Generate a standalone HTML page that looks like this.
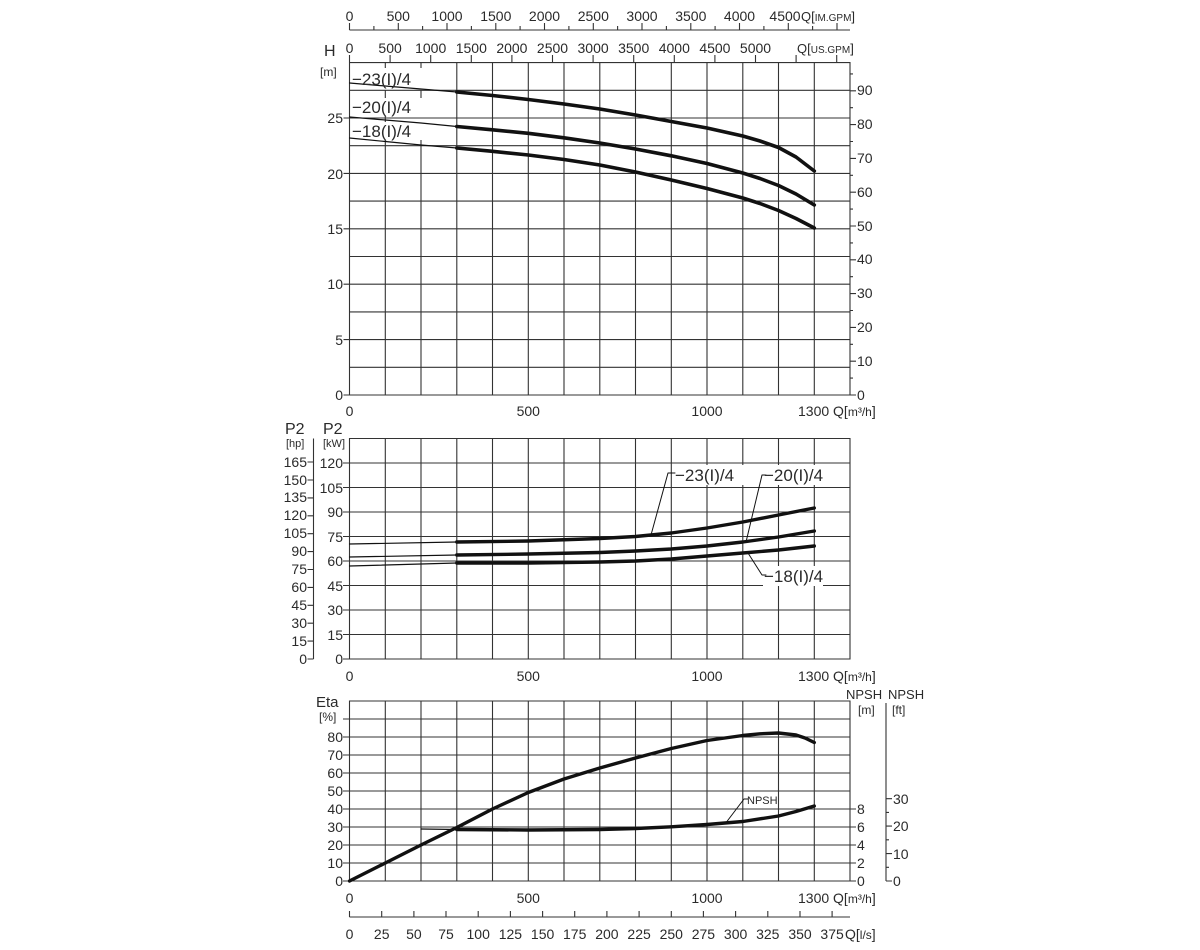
<!DOCTYPE html>
<html><head><meta charset="utf-8"><style>
html,body{margin:0;padding:0;background:#fff;}
svg{display:block;font-family:"Liberation Sans",sans-serif;}
text{fill:#2a2a2a;}
</style></head><body>
<svg width="1200" height="950" viewBox="0 0 1200 950" xmlns="http://www.w3.org/2000/svg">
<g stroke="#333" stroke-width="1.1" fill="none">
<path d="M349.5 30H850 M349.5 30v-7 M398.3 30v-7 M447 30v-7 M495.8 30v-7 M544.5 30v-7 M593.3 30v-7 M642 30v-7 M690.8 30v-7 M739.5 30v-7 M788.3 30v-7 M837 30v-7 M373.9 30v-4 M422.6 30v-4 M471.4 30v-4 M520.1 30v-4 M568.9 30v-4 M617.6 30v-4 M666.4 30v-4 M715.1 30v-4 M763.9 30v-4 M812.6 30v-4"/>
<path d="M349.5 62v-7 M390.1 62v-7 M430.7 62v-7 M471.3 62v-7 M511.9 62v-7 M552.5 62v-7 M593.1 62v-7 M633.7 62v-7 M674.3 62v-7 M714.9 62v-7 M755.5 62v-7 M796.1 62v-7 M836.7 62v-7"/>
<path d="M349.5 62.6H850V395H349.5Z"/>
<path d="M385.3 140V395 M421 140V395 M456.8 62.6V395 M492.5 62.6V395 M528.3 62.6V395 M564 62.6V395 M599.8 62.6V395 M635.5 62.6V395 M671.3 62.6V395 M707 62.6V395 M742.8 62.6V395 M778.5 62.6V395 M814.3 62.6V395"/>
<path d="M385.3 62.6V68 M421 62.6V68 M385.3 90V98 M421 90V98 M385.3 115V122"/>
<path d="M349.5 367.3H850 M349.5 339.6H850 M349.5 311.9H850 M349.5 284.2H850 M349.5 256.5H850 M349.5 228.8H850 M349.5 201.1H850 M349.5 173.4H850 M349.5 145.7H850 M349.5 118H850 M349.5 90.3H850"/>
<path d="M349.5 395h-6 M349.5 339.6h-6 M349.5 284.2h-6 M349.5 228.8h-6 M349.5 173.4h-6 M349.5 118h-6"/>
<path d="M850 395h6 M850 361.2h6 M850 327.4h6 M850 293.6h6 M850 259.8h6 M850 226h6 M850 192.2h6 M850 158.4h6 M850 124.6h6 M850 90.8h6 M850 378.1h3 M850 344.3h3 M850 310.5h3 M850 276.7h3 M850 242.9h3 M850 209.1h3 M850 175.3h3 M850 141.5h3 M850 107.7h3 M850 73.9h3"/>
<path d="M349.5 438.5H850V659H349.5Z"/>
<path d="M385.3 438.5V659 M421 438.5V659 M456.8 438.5V659 M492.5 438.5V659 M528.3 438.5V659 M564 438.5V659 M599.8 438.5V659 M635.5 438.5V659 M671.3 438.5V659 M707 438.5V659 M742.8 438.5V659 M778.5 438.5V659 M814.3 438.5V659"/>
<path d="M343 634.5H850 M343 610H850 M343 585.5H850 M343 561H850 M343 536.5H850 M343 512H850 M343 487.5H850 M343 463H850 M343 659h6.5"/>
<path d="M313.5 438.5V659 M313.5 659h-6 M313.5 641.1h-6 M313.5 623.2h-6 M313.5 605.3h-6 M313.5 587.4h-6 M313.5 569.5h-6 M313.5 551.6h-6 M313.5 533.7h-6 M313.5 515.8h-6 M313.5 497.9h-6 M313.5 480h-6 M313.5 462h-6"/>
<path d="M349.5 701H850V881H349.5Z"/>
<path d="M385.3 701V881 M421 701V881 M456.8 701V881 M492.5 701V881 M528.3 701V881 M564 701V881 M599.8 701V881 M635.5 701V881 M671.3 701V881 M707 701V881 M742.8 701V881 M778.5 701V881 M814.3 701V881"/>
<path d="M343 863H850 M343 845H850 M343 827H850 M343 809H850 M343 791H850 M343 773H850 M343 755H850 M343 737H850 M343 719H850 M343 881h6.5"/>
<path d="M850 881h6 M850 863h6 M850 845h6 M850 827h6 M850 809h6"/>
<path d="M886 703V881 M886 881h6 M886 853.6h6 M886 826.1h6 M886 798.7h6 M886 867.3h3 M886 839.8h3 M886 812.4h3"/>
<path d="M349.5 917H850 M349.5 917v-6 M381.7 917v-6 M413.9 917v-6 M446 917v-6 M478.2 917v-6 M510.4 917v-6 M542.6 917v-6 M574.7 917v-6 M606.9 917v-6 M639.1 917v-6 M671.3 917v-6 M703.4 917v-6 M735.6 917v-6 M767.8 917v-6 M800 917v-6 M832.1 917v-6"/>
</g>
<g fill="#fff">
<rect x="351" y="69" width="78" height="20"/>
<rect x="351" y="98" width="78" height="18"/>
<rect x="351" y="122" width="78" height="18"/>
<rect x="674" y="465" width="70" height="20"/>
<rect x="763" y="465" width="72" height="20"/>
<rect x="763" y="566" width="60" height="20"/>
</g>
<g stroke="#111" fill="none" stroke-linejoin="round" stroke-linecap="round">
<polyline stroke-width="1.2" points="349.5,83 385.3,86 421,89 456.8,92"/>
<polyline stroke-width="3.6" points="456.8,92 492.5,95.5 528.3,99.5 564,104 599.8,109 635.5,115 671.3,121.5 707,128 742.8,136 760,141 778.5,147.5 796,157 814.3,171"/>
<polyline stroke-width="1.2" points="349.5,117 385.3,120 421,123 456.8,126.5"/>
<polyline stroke-width="3.6" points="456.8,126.5 492.5,129.8 528.3,133.3 564,137.8 599.8,143 635.5,149 671.3,155.8 707,163.5 742.8,173 760,178.5 778.5,185.5 796,194 814.3,205"/>
<polyline stroke-width="1.2" points="349.5,138 385.3,141.5 421,145 456.8,148"/>
<polyline stroke-width="3.6" points="456.8,148 492.5,151.3 528.3,155 564,159.5 599.8,165 635.5,172 671.3,180 707,188.5 742.8,198 760,203.5 778.5,210.5 796,218.5 814.3,228"/>
<polyline stroke-width="1.2" points="349.5,544 456.8,542"/>
<polyline stroke-width="3.4" points="456.8,542 528.3,541 599.8,538.5 635.5,536.5 671.3,533 707,528 742.8,522 778.5,515 814.3,508"/>
<polyline stroke-width="1.2" points="349.5,557 456.8,555"/>
<polyline stroke-width="3.4" points="456.8,555 528.3,554 599.8,552.5 635.5,551 671.3,549 707,546 742.8,542 778.5,537 814.3,531"/>
<polyline stroke-width="1.2" points="349.5,566 456.8,563"/>
<polyline stroke-width="3.4" points="456.8,563 528.3,563 599.8,562 635.5,561 671.3,559 707,556 742.8,553 778.5,550 814.3,546"/>
<path stroke-width="1" d="M651 535L668 473H675 M746 542L762 475H766 M748 553L762 575H766"/>
<polyline stroke-width="3.4" points="349.5,881 385.3,863 421,845 456.8,827.5 492.5,809 528.3,792.5 564,779 599.8,768 635.5,758 671.3,748.5 707,740.5 742.8,735.5 760,733.8 778.5,733 796,735 805,738 814.3,742.5"/>
<polyline stroke-width="1.2" points="421,829 456.8,829.5"/>
<polyline stroke-width="3.4" points="456.8,829.5 528.3,830 599.8,829.5 635.5,828.5 671.3,826.8 707,824.5 742.8,821.5 778.5,816 796,811.5 814.3,806"/>
<path stroke-width="1" d="M725 824L744 799H748"/>
</g>
<g font-size="14">
<g text-anchor="middle">
<text x="349.5" y="21">0</text><text x="398.3" y="21">500</text><text x="447" y="21">1000</text><text x="495.8" y="21">1500</text><text x="544.5" y="21">2000</text><text x="593.3" y="21">2500</text><text x="642" y="21">3000</text><text x="690.8" y="21">3500</text><text x="739.5" y="21">4000</text><text x="785" y="21">4500</text>
<text x="349.5" y="53">0</text><text x="390.1" y="53">500</text><text x="430.7" y="53">1000</text><text x="471.3" y="53">1500</text><text x="511.9" y="53">2000</text><text x="552.5" y="53">2500</text><text x="593.1" y="53">3000</text><text x="633.7" y="53">3500</text><text x="674.3" y="53">4000</text><text x="714.9" y="53">4500</text><text x="755.5" y="53">5000</text>
<text x="349.5" y="416">0</text><text x="528.3" y="416">500</text><text x="707" y="416">1000</text>
<text x="349.5" y="681">0</text><text x="528.3" y="681">500</text><text x="707" y="681">1000</text>
<text x="349.5" y="903">0</text><text x="528.3" y="903">500</text><text x="707" y="903">1000</text>
<text x="349.5" y="939">0</text><text x="381.7" y="939">25</text><text x="413.9" y="939">50</text><text x="446" y="939">75</text><text x="478.2" y="939">100</text><text x="510.4" y="939">125</text><text x="542.6" y="939">150</text><text x="574.7" y="939">175</text><text x="606.9" y="939">200</text><text x="639.1" y="939">225</text><text x="671.3" y="939">250</text><text x="703.4" y="939">275</text><text x="735.6" y="939">300</text><text x="767.8" y="939">325</text><text x="800" y="939">350</text><text x="832.1" y="939">375</text>
</g>
<text x="801" y="21" font-size="13">Q[<tspan font-size="10">IM.GPM</tspan>]</text>
<text x="797" y="53" font-size="13">Q[<tspan font-size="10">US.GPM</tspan>]</text>
<text x="798" y="416">1300 Q[<tspan font-size="12">m³/h</tspan>]</text>
<text x="798" y="681">1300 Q[<tspan font-size="12">m³/h</tspan>]</text>
<text x="798" y="903">1300 Q[<tspan font-size="12">m³/h</tspan>]</text>
<text x="845" y="939">Q[<tspan font-size="12">l/s</tspan>]</text>
<g text-anchor="end">
<text x="343" y="400">0</text><text x="343" y="345">5</text><text x="343" y="289">10</text><text x="343" y="234">15</text><text x="343" y="179">20</text><text x="343" y="123">25</text>
<text x="343" y="664">0</text><text x="343" y="640">15</text><text x="343" y="615">30</text><text x="343" y="591">45</text><text x="343" y="566">60</text><text x="343" y="542">75</text><text x="343" y="517">90</text><text x="343" y="493">105</text><text x="343" y="468">120</text>
<text x="307" y="664">0</text><text x="307" y="646">15</text><text x="307" y="628">30</text><text x="307" y="610">45</text><text x="307" y="592">60</text><text x="307" y="574">75</text><text x="307" y="556">90</text><text x="307" y="538">105</text><text x="307" y="520">120</text><text x="307" y="502">135</text><text x="307" y="485">150</text><text x="307" y="467">165</text>
<text x="343" y="886">0</text><text x="343" y="868">10</text><text x="343" y="850">20</text><text x="343" y="832">30</text><text x="343" y="814">40</text><text x="343" y="796">50</text><text x="343" y="778">60</text><text x="343" y="760">70</text><text x="343" y="742">80</text>
</g>
<text x="857" y="400">0</text><text x="857" y="366">10</text><text x="857" y="332">20</text><text x="857" y="298">30</text><text x="857" y="264">40</text><text x="857" y="231">50</text><text x="857" y="197">60</text><text x="857" y="163">70</text><text x="857" y="129">80</text><text x="857" y="95">90</text>
<text x="857" y="886">0</text><text x="857" y="868">2</text><text x="857" y="850">4</text><text x="857" y="832">6</text><text x="857" y="814">8</text>
<text x="893" y="886">0</text><text x="893" y="859">10</text><text x="893" y="831">20</text><text x="893" y="804">30</text>
<text x="324" y="56" font-size="16">H</text>
<text x="320" y="76" font-size="12">[m]</text>
<text x="285" y="434" font-size="16">P2</text><text x="286" y="447" font-size="11">[hp]</text>
<text x="323" y="434" font-size="16">P2</text><text x="323" y="447" font-size="11">[kW]</text>
<text x="316" y="707" font-size="15">Eta</text><text x="319" y="721" font-size="12">[%]</text>
<text x="846" y="699" font-size="13">NPSH</text><text x="858" y="714" font-size="12">[m]</text>
<text x="888" y="699" font-size="13">NPSH</text><text x="892" y="714" font-size="12">[ft]</text>
<g font-size="17">
<text x="352" y="85">−23(I)/4</text>
<text x="352" y="113">−20(I)/4</text>
<text x="352" y="137">−18(I)/4</text>
<text x="675" y="481">−23(I)/4</text>
<text x="764" y="481">−20(I)/4</text>
<text x="764" y="582">−18(I)/4</text>
</g>
<text x="747" y="804" font-size="11">NPSH</text>
</g>
</svg>
</body></html>
